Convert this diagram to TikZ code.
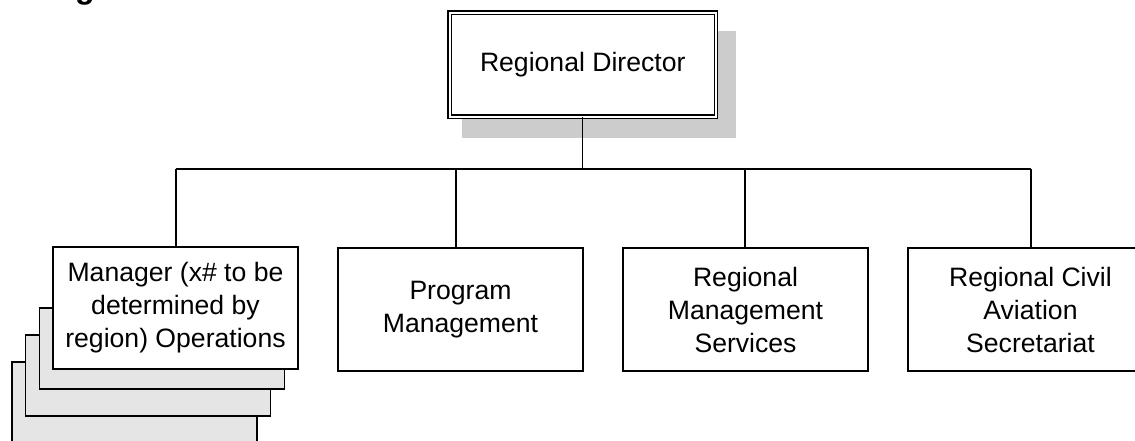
\documentclass[tikz,border=0pt]{standalone}
\usepackage{fontspec}
\setmainfont{Liberation Sans}
\usetikzlibrary{shadows}

\begin{document}
\begin{tikzpicture}[x=0.5pt,y=-0.5pt,line width=0.6pt,
    unit/.style={draw,fill=white,inner sep=0pt,minimum width=122.5pt,minimum height=61.5pt,
      align=center,font=\fontsize{13.3}{16.5}\selectfont},
    stack/.style={draw,fill=black!10,inner sep=0pt,minimum width=122.5pt,minimum height=40.5pt},
    head/.style={unit,minimum width=133.25pt,minimum height=52pt,double,double distance=1pt,
      drop shadow={shadow xshift=8pt,shadow yshift=-9.5pt,shadow scale=1.03,fill=black!20,opacity=1}}]
 %   \useasboundingbox fixes the page to the reference size
    \useasboundingbox (0,0) rectangle (1135,440);

    \node[anchor=base west,font=\fontsize{16}{19}\selectfont\bfseries] (title) at (27,-1.5) {Regions};

    \node[head] (dir) at (582.75,64.5) {Regional Director};

    \foreach \i in {3,2,1}
      \node[stack] (mgr\i) at (175.5-13.7*\i,321.5+27*\i) {};
    \node[unit,minimum height=61pt] (mgr) at (175.5,308) {Manager (x\# to be\\determined by\\region) Operations};
    \node[unit] (prog) at (460.5,309.5) {Program\\Management};
    \node[unit] (rms) at (745.5,309.5) {Regional\\Management\\Services};
    \node[unit] (rcas) at (1030.5,309.5) {Regional Civil\\Aviation\\Secretariat};

    \coordinate (bus1) at (176,169);
    \coordinate (bus2) at (456,169);
    \coordinate (bus3) at (745,169);
    \coordinate (bus4) at (1031,169);

    \draw (dir.south) -- (dir.south |- bus1);
    \draw (bus1) -- (bus4);
    \draw (bus1) -- (bus1 |- mgr.north);
    \draw (bus2) -- (bus2 |- prog.north);
    \draw (bus3) -- (bus3 |- rms.north);
    \draw (bus4) -- (bus4 |- rcas.north);

   \end{tikzpicture}
\end{document}
